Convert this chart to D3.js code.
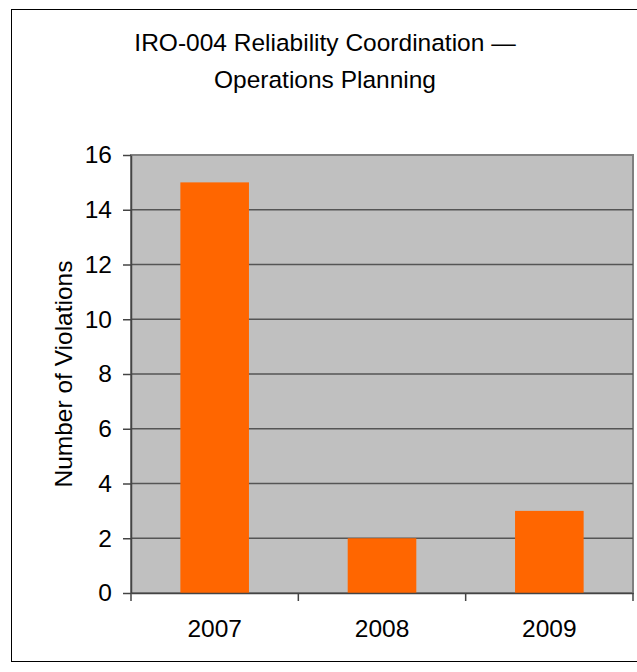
<!DOCTYPE html>
<html>
<head>
<meta charset="utf-8">
<script src="https://cdn.jsdelivr.net/npm/d3@7"></script>
<style>
	body { margin: 0; background: #fff; }
	svg { display: block; font-family: "Liberation Sans", Arial, sans-serif; }
</style>
</head>
<body>
<div id="chart"></div>
<script>
	// chart data
	const years = ["2007", "2008", "2009"];
	const violations = [15, 2, 3];
	const yTicks = [0, 2, 4, 6, 8, 10, 12, 14, 16];
	const titleLines = ["IRO-004 Reliability Coordination \u2014", "Operations Planning"];
	const yTitle = "Number of Violations";

	const width = 637, height = 672;
	const margin = { top: 155, right: 4, bottom: 79, left: 131 };
	const fontSize = "24.5px";

	const svg = d3.select("#chart")
		.append("svg")
		.attr("width", width)
		.attr("height", height);

	// outer chart frame
	svg.append("rect")
		.attr("x", 11.5).attr("y", 9.5)
		.attr("width", 640).attr("height", 652)
		.attr("fill", "#fff")
		.attr("stroke", "#000")
		.attr("stroke-width", 1);

	const x = d3.scaleBand()
		.domain(years)
		.range([margin.left, width - margin.right])
		.paddingInner(0.59)
		.paddingOuter(0.295);

	const y = d3.scaleLinear()
		.domain([0, 16])
		.range([height - margin.bottom, margin.top]);

	// plot background
	svg.append("rect")
		.attr("x", margin.left)
		.attr("y", margin.top)
		.attr("width", width - margin.right - margin.left)
		.attr("height", y(0) - margin.top)
		.attr("fill", "#c0c0c0")
		.attr("stroke", "#808080")
		.attr("stroke-width", 2);

	// gridlines
	svg.append("g")
		.selectAll("line")
		.data(yTicks.slice(1, -1))
		.join("line")
		.attr("x1", margin.left)
		.attr("x2", width - margin.right)
		.attr("y1", d => y(d))
		.attr("y2", d => y(d))
		.attr("stroke", "#555")
		.attr("stroke-width", 1.5);

	// bars
	svg.append("g")
		.selectAll("rect")
		.data(violations)
		.join("rect")
		.attr("x", (d, i) => x(years[i]))
		.attr("y", d => y(d))
		.attr("width", x.bandwidth())
		.attr("height", d => y(0) - y(d))
		.attr("fill", "#ff6600");

	// y axis
	const yAxis = svg.append("g")
		.attr("transform", `translate(${margin.left},0)`)
		.call(d3.axisLeft(y).tickValues(yTicks).tickSize(8).tickPadding(11).tickSizeOuter(0));
	yAxis.selectAll("line, path").attr("stroke", "#444").attr("stroke-width", 1.5);
	yAxis.selectAll("text")
		.style("font-size", fontSize)
		.attr("fill", "#000");

	// x axis with boundary ticks
	const xAxis = svg.append("g")
		.attr("transform", `translate(0,${y(0)})`)
		.call(d3.axisBottom(x).tickSize(0).tickPadding(27));
	xAxis.select(".domain").attr("stroke", "#444").attr("stroke-width", 1.5);
	xAxis.selectAll("text")
		.style("font-size", fontSize)
		.attr("fill", "#000");
	const bounds = years.map(d => x(d) - x.step() * x.paddingInner() / 2).concat([width - margin.right]);
	bounds[0] = margin.left;
	xAxis.append("g")
		.selectAll("line")
		.data(bounds)
		.join("line")
		.attr("x1", d => d).attr("x2", d => d)
		.attr("y1", 0).attr("y2", 8)
		.attr("stroke", "#444")
		.attr("stroke-width", 1.5);

	// title
	svg.append("text")
		.attr("text-anchor", "middle")
		.style("font-size", fontSize)
		.selectAll("tspan")
		.data(titleLines)
		.join("tspan")
		.attr("x", 325)
		.attr("y", (d, i) => 51 + i * 37)
		.text(d => d);

	// y axis title
	svg.append("text")
		.attr("transform", `translate(72,${(margin.top + y(0)) / 2}) rotate(-90)`)
		.attr("text-anchor", "middle")
		.style("font-size", fontSize)
		.text(yTitle);
</script>
</body>
</html>
